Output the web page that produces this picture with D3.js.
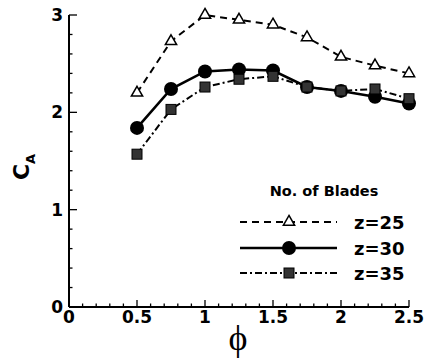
<!DOCTYPE html>
<html><head><meta charset="utf-8">
<script src="https://cdn.jsdelivr.net/npm/d3@7"></script>
<style>body{margin:0;background:#fff;} svg{display:block;}</style>
</head><body>
<svg id="c" width="427" height="361"></svg>
<script>
const phi = [0.5, 0.75, 1.0, 1.25, 1.5, 1.75, 2.0, 2.25, 2.5];
const z25 = [2.20, 2.73, 3.00, 2.95, 2.90, 2.77, 2.57, 2.48, 2.40];
const z30 = [1.84, 2.24, 2.42, 2.44, 2.43, 2.26, 2.22, 2.16, 2.09];
const z35 = [1.57, 2.03, 2.26, 2.34, 2.37, 2.26, 2.22, 2.24, 2.14];
const seriesNames = ["z=25", "z=30", "z=35"];
const xTicks = [0, 0.5, 1, 1.5, 2, 2.5];
const xTickLabels = ["0", "0.5", "1", "1.5", "2", "2.5"];
const yTicks = [0, 1, 2, 3];
const yTickLabels = ["0", "1", "2", "3"];

const svg = d3.select("#c");
const x = d3.scaleLinear().domain([0, 2.5]).range([69, 409]);
const y = d3.scaleLinear().domain([0, 3]).range([307, 15]);
const font = "'DejaVu Sans', sans-serif";

// axes lines
svg.append("line").attr("x1", x(0)).attr("x2", x(2.5)).attr("y1", y(0)).attr("y2", y(0))
  .attr("stroke", "#000").attr("stroke-width", 2);
svg.append("line").attr("x1", x(0)).attr("x2", x(0)).attr("y1", y(0)).attr("y2", y(3))
  .attr("stroke", "#000").attr("stroke-width", 2);

// x ticks
const xMinor = d3.range(0, 2.5001, 0.1);
xMinor.forEach(v => {
  const major = Math.abs(v / 0.5 - Math.round(v / 0.5)) < 1e-6;
  svg.append("line").attr("x1", x(v)).attr("x2", x(v)).attr("y1", y(0)).attr("y2", y(0) - (major ? 7 : 3.5))
    .attr("stroke", "#000").attr("stroke-width", 1.3);
});
xTicks.forEach((v, i) => {
  svg.append("text").attr("x", x(v)).attr("y", 323).attr("text-anchor", "middle")
    .attr("font-family", font).attr("font-weight", "bold").attr("font-size", 17).text(xTickLabels[i]);
});
// y ticks
const yMinor = d3.range(0, 3.0001, 0.2);
yMinor.forEach(v => {
  const major = Math.abs(v - Math.round(v)) < 1e-6;
  svg.append("line").attr("x1", x(0)).attr("x2", x(0) + (major ? 8 : 3.5)).attr("y1", y(v)).attr("y2", y(v))
    .attr("stroke", "#000").attr("stroke-width", 1.3);
});
yTicks.forEach((v, i) => {
  svg.append("text").attr("x", 63).attr("y", y(v) + 6).attr("text-anchor", "end")
    .attr("font-family", font).attr("font-weight", "bold").attr("font-size", 17).text(yTickLabels[i]);
});

// axis titles
const yl = svg.append("text").attr("transform", "translate(29,167) rotate(-90)")
  .attr("text-anchor", "middle").attr("font-family", font).attr("font-weight", "bold");
yl.append("tspan").attr("font-size", 22).text("C");
yl.append("tspan").attr("font-size", 13).attr("dy", 6).text("A");
svg.append("text").attr("x", 238).attr("y", 350).attr("text-anchor", "middle")
  .attr("font-family", "'Liberation Serif', 'DejaVu Serif', serif").attr("font-size", 36).text("\u03D5");

// series
const styles = [
  {data: z25, dash: "7,5", width: 2, marker: "tri"},
  {data: z30, dash: null, width: 2.6, marker: "circ"},
  {data: z35, dash: "7,3,2,3", width: 2, marker: "sq"}
];
const line = d3.line().x(d => x(d[0])).y(d => y(d[1]));
function marker(g, type, cx, cy) {
  if (type === "tri") {
    g.append("path").attr("d", d3.symbol(d3.symbolTriangle, 55)()).attr("transform", `translate(${cx},${cy})`)
      .attr("fill", "#fff").attr("stroke", "#000").attr("stroke-width", 1.5);
  } else if (type === "circ") {
    g.append("circle").attr("cx", cx).attr("cy", cy).attr("r", 7).attr("fill", "#000");
  } else {
    g.append("rect").attr("x", cx - 5).attr("y", cy - 5).attr("width", 10).attr("height", 10)
      .attr("fill", "#333").attr("stroke", "#000").attr("stroke-width", 1);
  }
}
styles.forEach(s => {
  const pts = phi.map((p, i) => [p, s.data[i]]);
  svg.append("path").attr("d", line(pts)).attr("fill", "none").attr("stroke", "#000")
    .attr("stroke-width", s.width).attr("stroke-dasharray", s.dash);
  const g = svg.append("g");
  pts.forEach(p => marker(g, s.marker, x(p[0]), y(p[1])));
});

// legend
svg.append("text").attr("x", 324).attr("y", 196).attr("text-anchor", "middle")
  .attr("font-family", font).attr("font-weight", "bold").attr("font-size", 14.5).text("No. of Blades");
const ly = [222, 248, 273];
styles.forEach((s, i) => {
  svg.append("line").attr("x1", 240).attr("x2", 337).attr("y1", ly[i]).attr("y2", ly[i])
    .attr("stroke", "#000").attr("stroke-width", s.width).attr("stroke-dasharray", s.dash);
  marker(svg, s.marker, 289, ly[i]);
  svg.append("text").attr("x", 354).attr("y", ly[i] + 6.5).attr("font-family", font)
    .attr("font-weight", "bold").attr("font-size", 18).text(seriesNames[i]);
});
</script>
</body></html>
